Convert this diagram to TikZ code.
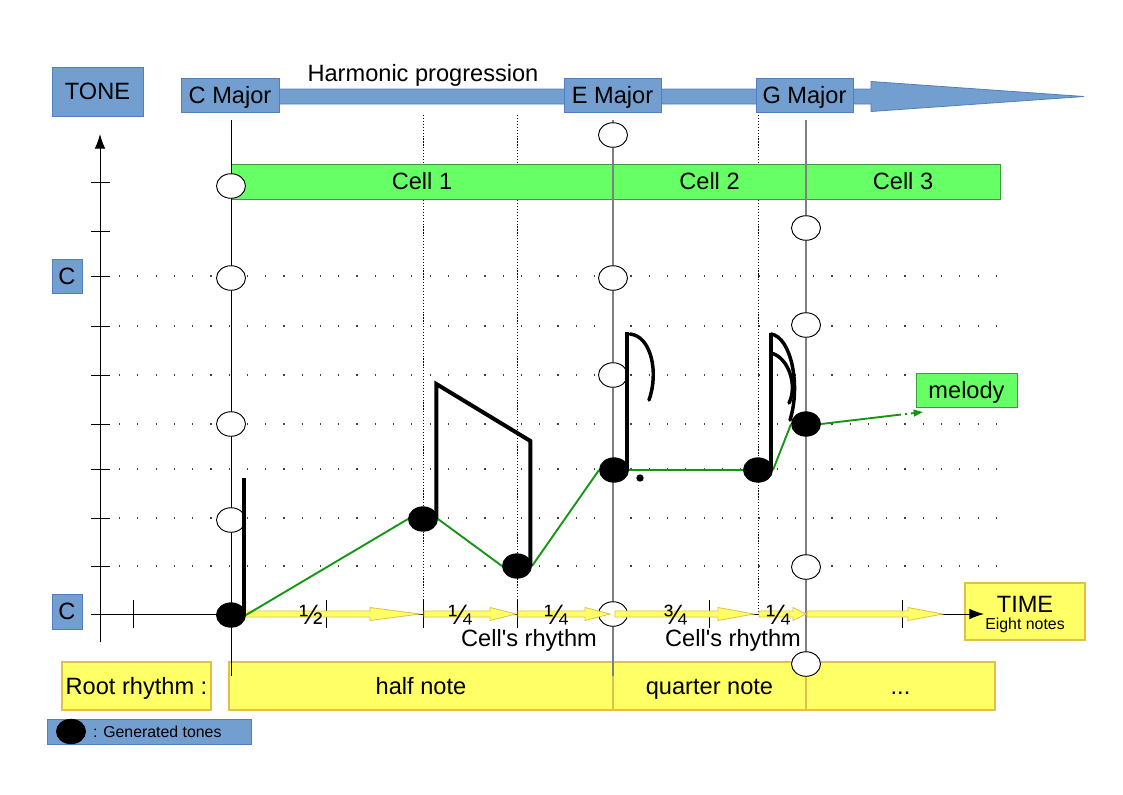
\documentclass[tikz,border=0pt]{standalone}
\usepackage{fontspec}
\setmainfont{Liberation Sans}
\usetikzlibrary{shapes.geometric,arrows.meta,calc}
\definecolor{bfill}{HTML}{729FCF}
\definecolor{bdraw}{HTML}{4F7FBF}
\definecolor{gfill}{HTML}{66FF66}
\definecolor{gdraw}{HTML}{3C9C3C}
\definecolor{mline}{HTML}{149614}
\definecolor{yfill}{HTML}{FFFF66}
\definecolor{ydraw}{HTML}{E0C04A}
\definecolor{vgray}{HTML}{7F7F7F}
\newcommand\fatarrow[3]{%
  \filldraw[rhythm] (#1,611) -- (#2,611) -- (#2,607.5) -- (#3,614) -- (#2,620.5) -- (#2,617) -- (#1,617) -- cycle;}
\begin{document}
\begin{tikzpicture}[x=0.75pt,y=-0.75pt,
  every node/.style={font=\fontsize{17.7}{20}\selectfont, inner sep=0pt, outer sep=0pt},
  smallfont/.style={font=\fontsize{11.9}{13}\selectfont},
  fracfont/.style={font=\fontsize{21}{23}\selectfont},
  sz/.style 2 args={minimum width=#1, minimum height=#2},
  boxtext/.style={text height=12.7pt, text depth=0pt},
  bluebox/.style={draw=bdraw, fill=bfill, line width=0.6pt, boxtext},
  greenbox/.style={draw=gdraw, fill=gfill, line width=0.6pt, boxtext},
  yellowbox/.style={draw=ydraw, fill=yfill, line width=0.8pt, boxtext},
  rhythm/.style={draw=ydraw, fill=yfill, line width=0.6pt},
  gridrow/.style={line width=0.9pt, black!75, dash pattern=on 0.9pt off 12.8pt},
  gridcol/.style={line width=0.6pt, black, dash pattern=on 0.9pt off 1.3pt},
  axisline/.style={line width=0.75pt, black, -{Latex[length=11pt,width=8pt]}},
  tickline/.style={line width=0.75pt, black},
  tone/.style={ellipse, draw=black, line width=0.7pt, fill=white, minimum width=21.75pt, minimum height=18.4pt},
  head/.style={ellipse, fill=black, minimum width=22.5pt, minimum height=19pt},
  stem/.style={line width=3pt, black, line cap=butt, line join=miter},
  flag/.style={line width=2.6pt, black, line cap=round},
  melline/.style={line width=1.4pt, mline},
  vline/.style={line width=1pt, vgray}
]
\useasboundingbox (0,0) rectangle (1123,794);
\fill[white] (0,0) rectangle (1123,794);

% dotted grid
\foreach \yy in {276,326,375,424,469,518,566}
  \draw[gridrow] (119,\yy) -- (1000,\yy);
\foreach \xx in {423,517,758}
  \draw[gridcol] (\xx,115) -- (\xx,614);

% harmonic progression arrow
\filldraw[draw=bdraw, fill=bfill, line width=0.6pt]
  (231,89) -- (871,89) -- (871,81.5) -- (1084,96.5) -- (871,111.5) -- (871,104) -- (231,104) -- cycle;
\node[anchor=base] (harm) at (423,81) {Harmonic progression};
\node[bluebox, sz={68.25pt}{36.75pt}] (tone) at (97.5,91.5) {TONE};
\node[bluebox, sz={73.5pt}{25.5pt}] (cmaj) at (230,95) {C Major};
\node[bluebox, sz={72.75pt}{25.5pt}] (emaj) at (612.5,95) {E Major};
\node[bluebox, sz={72.75pt}{25.5pt}] (gmaj) at (804.5,95) {G Major};

% cells
\node[greenbox, sz={286.5pt}{26.25pt}] (cell1) at (422,181.5) {Cell 1};
\node[greenbox, sz={144.75pt}{26.25pt}] (cell2) at (709.5,181.5) {Cell 2};
\node[greenbox, sz={145.5pt}{26.25pt}] (cell3) at (903,181.5) {Cell 3};

% tone labels
\node[bluebox, sz={22.5pt}{25.5pt}] (c1) at (67,276) {C};
\node[bluebox, sz={22.5pt}{26.25pt}] (c2) at (67,611.5) {C};

% bottom boxes
\node[yellowbox, sz={111.75pt}{36pt}] (root) at (136.5,686) {Root rhythm :};
\node[yellowbox, sz={288pt}{36pt}] (half) at (421,686) {half note};
\node[yellowbox, sz={144.75pt}{36pt}] (quarter) at (709.5,686) {quarter note};
\node[yellowbox, sz={141.75pt}{36pt}] (more) at (900.5,686) {...};
\node[yellowbox, sz={90pt}{42.75pt}] (time) at (1025,611.5) {};
\node[anchor=base] (timet) at (1025,612) {TIME};
\node[smallfont, anchor=base] (timee) at (1025,629) {Eight notes};

% axes
\coordinate (yb) at (100,642);
\coordinate (yt) at (100,134);
\coordinate (xl) at (91,614);
\coordinate (xr) at (984,614);
\draw[axisline] (yb) -- (yt);
\draw[axisline] (xl) -- (xr);
\foreach \yy in {182,231,276,326,375,424,469,518,566}
  \draw[tickline] (91,\yy) -- (110,\yy);
\foreach \xx in {133,326,423,517,709,902}
  \draw[tickline] (\xx,600) -- (\xx,628);

% vertical chord lines
\coordinate (ct) at (231,120); \coordinate (cb) at (231,676);
\coordinate (et) at (613,120); \coordinate (eb) at (613,676);
\coordinate (gt) at (806,120); \coordinate (gb) at (806,664);
\draw[line width=0.75pt, black] (ct) -- (cb);
\draw[vline] (et) -- (eb);
\draw[vline] (gt) -- (gb);

% open tones
\foreach \yy [count=\i] in {186,278,424,520}
  \node[tone] (tc\i) at (231,\yy) {};
\foreach \yy [count=\i] in {135,278,375,614}
  \node[tone] (te\i) at (613,\yy) {};
\foreach \yy [count=\i] in {228,325,567,664}
  \node[tone] (tg\i) at (806,\yy) {};

% rhythm arrows
\fatarrow{242}{370}{420}
\fatarrow{424}{490}{516}
\fatarrow{518}{585}{610}
\fatarrow{615}{718}{754}
\fatarrow{759}{793}{806}
\fatarrow{807}{908}{943}
\node[fracfont, anchor=base] (fr1) at (311,624) {½};
\node[fracfont, anchor=base] (fr2) at (460,624) {¼};
\node[fracfont, anchor=base] (fr3) at (556,624) {¼};
\node[fracfont, anchor=base] (fr4) at (675,624) {¾};
\node[fracfont, anchor=base] (fr5) at (778,624) {¼};
\node[anchor=base] (cr1) at (529,646) {Cell\textquotesingle s rhythm};
\node[anchor=base] (cr2) at (733,646) {Cell\textquotesingle s rhythm};

% generated notes
\node[head] (n1) at (231,615) {};
\node[head] (n2) at (423,519) {};
\node[head] (n3) at (517,566) {};
\node[head] (n4) at (614,470) {};
\node[head] (n5) at (758,470) {};
\node[head] (n6) at (806,424) {};
\draw[melline] (n1.east) -- (n2.west) (n2.east) -- (n3.west) (n3.east) -- (n4.west)
  (n4.east) -- (n5.west) (n5.east) -- (n6.west);

% stems and flags
\draw[stem] ([xshift=-1.2pt]n1.east) -- ++(0,-137);
\draw[stem] ([xshift=-1.2pt]n2.east) -- ++(0,-135) -- ($(n3.east)+(-1.6,-125)$) -- ([xshift=-1.2pt]n3.east);
\draw[stem] ([xshift=-1.2pt]n4.east) -- ++(0,-138);
\draw[flag] (630,334) .. controls (651,336) and (659,372) .. (649,400);
\node[circle, fill=black, minimum size=5.5pt] (dot4) at (640,478) {};
\draw[stem] ([xshift=-1.2pt]n5.east) -- ++(0,-137);
\draw[flag] (771,334) .. controls (791,337) and (801,385) .. (790,420);
\draw[flag] (771,353) .. controls (788,357) and (798,385) .. (789,403);

% melody label
\node[greenbox, sz={75.75pt}{25.5pt}] (mel) at (966.5,390) {melody};
\coordinate (ma) at (897,415);
\coordinate (mb) at (923,412);
\draw[melline] (n6.east) -- (ma);
\draw[melline, dash pattern=on 3pt off 3pt on 1.5pt off 3pt, -{Triangle[length=7pt,width=5pt]}] (ma) -- (mb);

% legend
\node[bluebox, sz={153pt}{18.75pt}] (leg) at (149,731.5) {};
\node[head] (lh) at (71,731.5) {};
\node[smallfont, anchor=west] (lt) at (93,731.5) {: Generated tones};
\end{tikzpicture}
\end{document}
